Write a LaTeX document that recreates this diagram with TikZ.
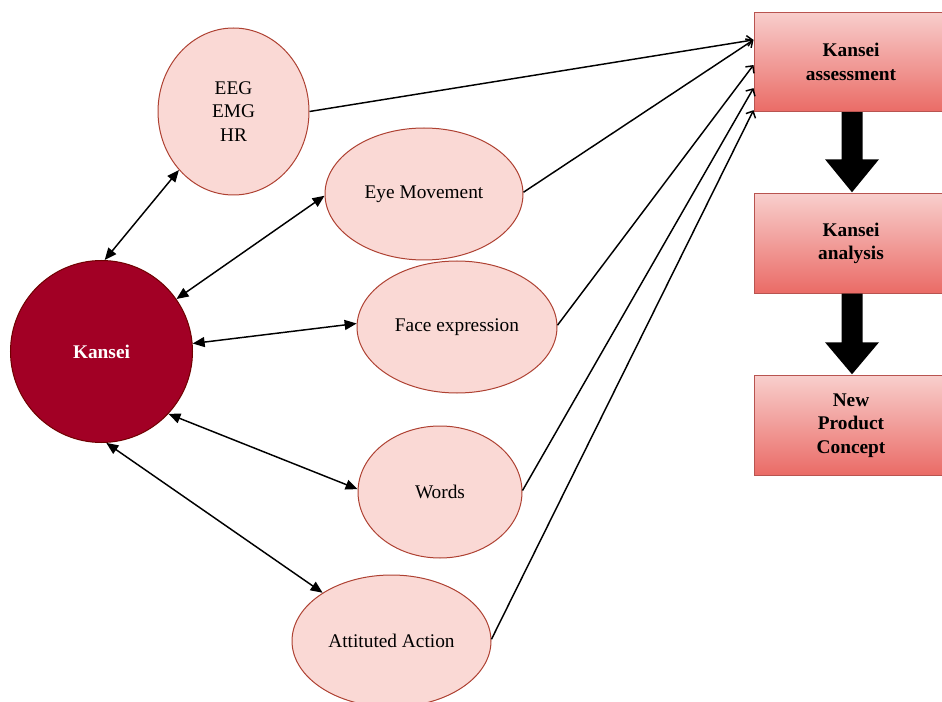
\documentclass[tikz,border=0pt]{standalone}
\usepackage{fontspec}
\setmainfont{Liberation Serif}
\usetikzlibrary{shapes.geometric,arrows.meta,calc}
\definecolor{ellfill}{HTML}{FAD9D5}
\definecolor{ellline}{HTML}{AE4132}
\definecolor{kfill}{HTML}{A20025}
\definecolor{kline}{HTML}{6F0000}
\definecolor{rtop}{HTML}{F8CECC}
\definecolor{rbot}{HTML}{EA6B66}
\definecolor{rline}{HTML}{B85450}
\begin{document}
\begin{tikzpicture}[x=0.75pt,y=-0.75pt,
  lbl/.style={font=\fontsize{14.5}{17.5}\selectfont},
  ell/.style={ellipse, draw=ellline, fill=ellfill, line width=0.75pt, inner sep=0pt, align=center, lbl},
  kcircle/.style={circle, draw=kline, fill=kfill, line width=0.75pt, inner sep=0pt, text=white, lbl, font=\fontsize{14.5}{17.5}\selectfont\bfseries},
  stepbox/.style={rectangle, draw=rline, top color=rtop, bottom color=rbot, line width=0.75pt, minimum width=145.5pt, minimum height=74.6pt, inner sep=0pt, align=center, font=\fontsize{14.5}{17.5}\selectfont\bfseries},
  bi/.style={line width=1.1pt, {Triangle[length=9pt,width=7.5pt]}-{Triangle[length=9pt,width=7.5pt]}},
  one/.style={line width=1.1pt, -{Straight Barb[length=4pt,width=8pt]}},
  bigarrow/.style={fill=black}
]
\useasboundingbox (0,0) rectangle (942,702);
\clip (0,0) rectangle (942,702);

% nodes
\node[kcircle, minimum size=136.5pt] (kansei) at (101.5,351.5) {Kansei};
\node[ell, minimum width=113.25pt, minimum height=125.25pt] (eeg) at (233.5,111.5) {EEG\\EMG\\HR};
\node[ell, minimum width=148.5pt, minimum height=99pt] (eye) at (424,194) {Eye Movement};
\node[ell, minimum width=150pt, minimum height=99pt] (face) at (457,327) {Face expression};
\node[ell, minimum width=123pt, minimum height=99pt] (words) at (440,492) {Words};
\node[ell, minimum width=149.25pt, minimum height=99pt] (att) at (391.5,641) {Attituted Action};

\node[stepbox] (assess) at (851,62) {Kansei\\assessment};
\node[stepbox] (analysis) at (851,243.5) {Kansei\\analysis};
\node[stepbox] (concept) at (851,425.5) {New\\Product\\Concept};

% bidirectional connectors
\draw[bi] (kansei.88) -- (eeg.227.5);
\draw[bi] (kansei.35.5) -- (eye.181);
\draw[bi] (kansei.5.6) -- (face.178.9);
\draw[bi] (kansei.-43.7) -- (words.178.6);
\draw[bi] (kansei.-87.5) -- (att.145.6);

% to assessment
\draw[one] (eeg.0) -- ($(assess.north west)!0.28!(assess.south west)$);
\draw[one] (eye.1) -- ($(assess.north west)!0.28!(assess.south west)$);
\draw[one] (face.1) -- ($(assess.north west)!0.53!(assess.south west)$);
\draw[one] (words.1.4) -- ($(assess.north west)!0.76!(assess.south west)$);
\draw[one] (att.1.7) -- ($(assess.north west)!0.98!(assess.south west)$);

% thick arrows
\fill[bigarrow] ($(assess.south)+(-9.5,0)$) -- ($(assess.south)+(11.5,0)$)
  -- ($(analysis.north)+(11.5,-34)$) -- ($(analysis.north)+(28,-34)$)
  -- ($(analysis.north)+(1,-1)$) -- ($(analysis.north)+(-26,-34)$)
  -- ($(analysis.north)+(-9.5,-34)$) -- cycle;
\fill[bigarrow] ($(analysis.south)+(-9.5,0)$) -- ($(analysis.south)+(11.5,0)$)
  -- ($(concept.north)+(11.5,-33)$) -- ($(concept.north)+(28,-33)$)
  -- ($(concept.north)+(1,-1)$) -- ($(concept.north)+(-26,-33)$)
  -- ($(concept.north)+(-9.5,-33)$) -- cycle;
\end{tikzpicture}
\end{document}
